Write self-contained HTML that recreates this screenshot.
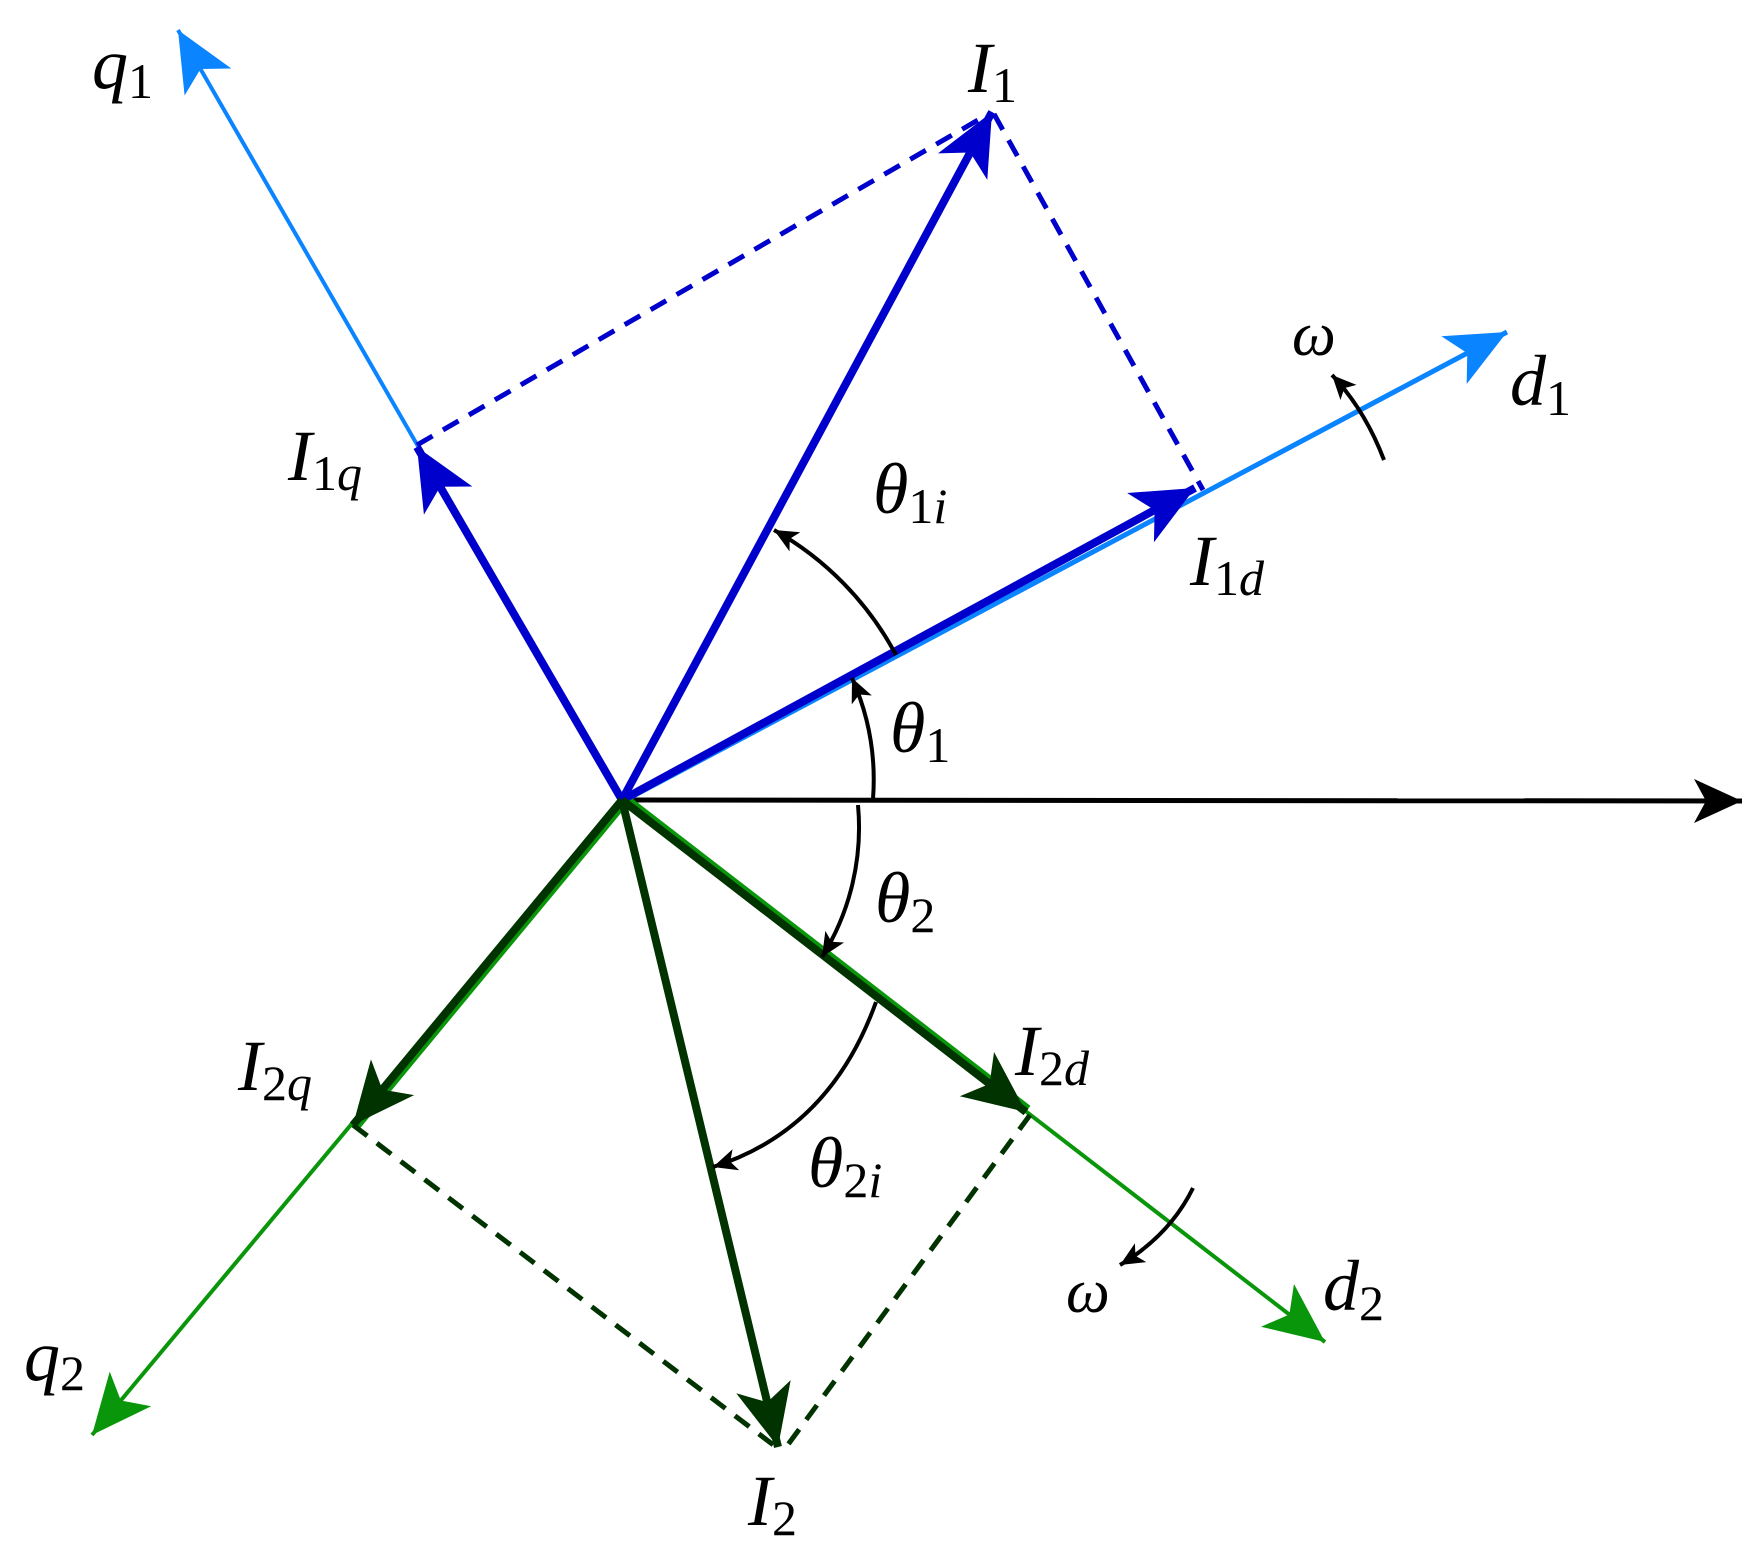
<!DOCTYPE html>
<html><head><style>html,body{margin:0;padding:0;background:#fff}svg{display:block}
text{font-family:"Liberation Serif",serif;font-style:italic;font-size:72px;fill:#000}
.s{font-style:normal;font-size:50px}.si{font-style:italic;font-size:50px}</style></head>
<body>
<svg width="1759" height="1561" viewBox="0 0 1759 1561" xmlns="http://www.w3.org/2000/svg">
<defs>
<marker id="aLB" markerUnits="userSpaceOnUse" markerWidth="80" markerHeight="80" viewBox="-70 -40 80 80" refX="0" refY="0" orient="auto"><path d="M0,0 L-60,-27 L-45,0 L-60,27 Z" fill="#0a84ff"/></marker>
<marker id="aG" markerUnits="userSpaceOnUse" markerWidth="80" markerHeight="80" viewBox="-70 -40 80 80" refX="0" refY="0" orient="auto"><path d="M0,0 L-60,-27 L-45,0 L-60,27 Z" fill="#0a960a"/></marker>
<marker id="aB" markerUnits="userSpaceOnUse" markerWidth="80" markerHeight="80" viewBox="-70 -40 80 80" refX="0" refY="0" orient="auto"><path d="M0,0 L-62,-28 L-46,0 L-62,28 Z" fill="#0000cc"/></marker>
<marker id="aDG" markerUnits="userSpaceOnUse" markerWidth="80" markerHeight="80" viewBox="-70 -40 80 80" refX="0" refY="0" orient="auto"><path d="M0,0 L-62,-28 L-46,0 L-62,28 Z" fill="#003300"/></marker>
<marker id="aK" markerUnits="userSpaceOnUse" markerWidth="80" markerHeight="80" viewBox="-70 -40 80 80" refX="0" refY="0" orient="auto"><path d="M0,0 L-48,-22 L-36,0 L-48,22 Z" fill="#000"/></marker>
<marker id="ak" markerUnits="userSpaceOnUse" markerWidth="40" markerHeight="40" viewBox="-30 -20 40 40" refX="0" refY="0" orient="auto"><path d="M0,0 L-24,-11 L-18,0 L-24,11 Z" fill="#000"/></marker>
</defs>
<line x1="622" y1="800" x2="1742" y2="801" stroke="#000" stroke-width="5" marker-end="url(#aK)"/>
<line x1="622" y1="800" x2="178" y2="30" stroke="#0a84ff" stroke-width="4" marker-end="url(#aLB)"/>
<line x1="622" y1="802" x2="1507" y2="332" stroke="#0a84ff" stroke-width="5" marker-end="url(#aLB)"/>
<line x1="622" y1="800" x2="92" y2="1435" stroke="#0a960a" stroke-width="4" marker-end="url(#aG)"/>
<line x1="622" y1="800" x2="1325" y2="1342" stroke="#0a960a" stroke-width="4" marker-end="url(#aG)"/>
<line x1="625" y1="802" x2="356" y2="1127" stroke="#0a960a" stroke-width="8"/>
<line x1="624" y1="797" x2="1028" y2="1109" stroke="#0a960a" stroke-width="8"/>
<g stroke-width="5" stroke-dasharray="18 12" fill="none">
<line x1="417" y1="445" x2="985" y2="116" stroke="#0000cc"/>
<line x1="994" y1="114" x2="1203" y2="490" stroke="#0000cc"/>
<line x1="353" y1="1125" x2="780" y2="1450" stroke="#003300"/>
<line x1="1030" y1="1115" x2="784" y2="1450" stroke="#003300"/>
</g>
<g stroke-width="8">
<line x1="622" y1="800" x2="417" y2="447" stroke="#0000cc" marker-end="url(#aB)"/>
<line x1="622" y1="800" x2="992" y2="112" stroke="#0000cc" marker-end="url(#aB)"/>
<line x1="622" y1="800" x2="1195" y2="488" stroke="#0000cc" marker-end="url(#aB)"/>
<line x1="622" y1="800" x2="353" y2="1125" stroke="#003300" marker-end="url(#aDG)"/>
<line x1="622" y1="800" x2="778" y2="1447" stroke="#003300" marker-end="url(#aDG)"/>
<line x1="622" y1="800" x2="1026" y2="1112" stroke="#003300" marker-end="url(#aDG)"/>
</g>
<g stroke="#000" stroke-width="4" fill="none">
<path d="M873,799 A251,251 0 0 0 852,678" marker-end="url(#ak)"/>
<path d="M896,655 A311,311 0 0 0 774,530" marker-end="url(#ak)"/>
<path d="M858,805 A245,245 0 0 1 822,957" marker-end="url(#ak)"/>
<path d="M876,1002 Q830,1130 713,1167" marker-end="url(#ak)"/>
<path d="M1384,460 Q1365,410 1332,375" marker-end="url(#ak)"/>
<path d="M1193,1188 Q1170,1235 1120,1265" marker-end="url(#ak)"/>
</g>
<text x="92" y="88">q<tspan class="s" dy="10">1</tspan></text>
<text x="968" y="92">I<tspan class="s" dy="10">1</tspan></text>
<text x="1510" y="405">d<tspan class="s" dy="10">1</tspan></text>
<text x="288" y="480">I<tspan class="s" dy="10">1</tspan><tspan class="si">q</tspan></text>
<text x="873" y="513">θ<tspan class="s" dy="10">1</tspan><tspan class="si">i</tspan></text>
<text x="1190" y="585">I<tspan class="s" dy="10">1</tspan><tspan class="si">d</tspan></text>
<text x="890" y="752">θ<tspan class="s" dy="10">1</tspan></text>
<text x="875" y="922">θ<tspan class="s" dy="10">2</tspan></text>
<text x="1015" y="1075">I<tspan class="s" dy="10">2</tspan><tspan class="si">d</tspan></text>
<text x="238" y="1090">I<tspan class="s" dy="10">2</tspan><tspan class="si">q</tspan></text>
<text x="808" y="1187">θ<tspan class="s" dy="10">2</tspan><tspan class="si">i</tspan></text>
<text x="1292" y="355" style="font-size:62px">ω</text>
<text x="1066" y="1312" style="font-size:62px">ω</text>
<text x="1323" y="1310">d<tspan class="s" dy="10">2</tspan></text>
<text x="24" y="1380">q<tspan class="s" dy="10">2</tspan></text>
<text x="748" y="1525">I<tspan class="s" dy="10">2</tspan></text>
</svg>
</body></html>
